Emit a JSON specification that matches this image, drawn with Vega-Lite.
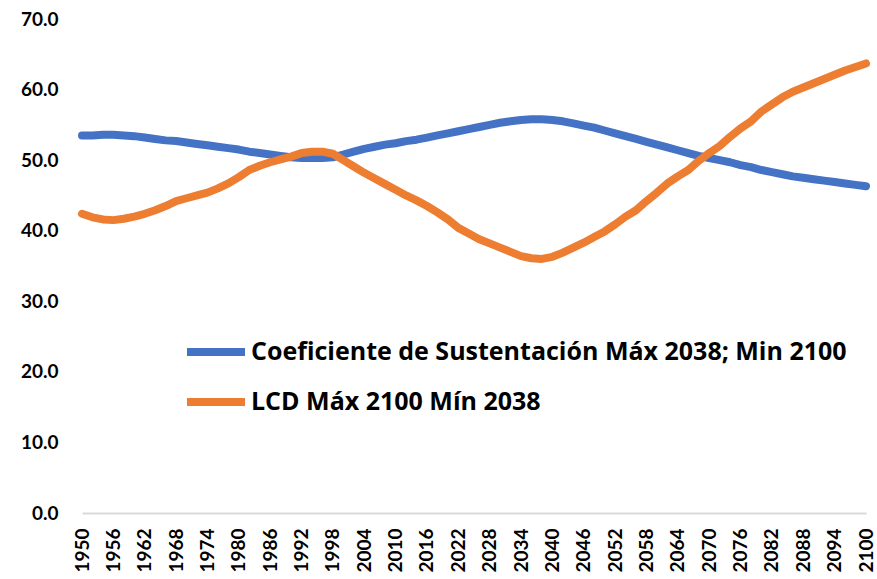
{
  "$schema": "https://vega.github.io/schema/vega-lite/v6.json",
  "width": 784,
  "height": 494,
  "autosize": {"type": "none"},
  "padding": {"left": 82, "top": 19, "right": 11, "bottom": 66},
  "background": "white",
  "config": {
    "view": {"stroke": null},
    "font": "Lato"
  },
  "data": {
    "values": [
      {"year": 1950, "coef": 53.5, "lcd": 42.4},
      {"year": 1952, "coef": 53.5, "lcd": 41.9},
      {"year": 1954, "coef": 53.6, "lcd": 41.6},
      {"year": 1956, "coef": 53.6, "lcd": 41.5},
      {"year": 1958, "coef": 53.5, "lcd": 41.7},
      {"year": 1960, "coef": 53.4, "lcd": 42.0},
      {"year": 1962, "coef": 53.2, "lcd": 42.4},
      {"year": 1964, "coef": 53.0, "lcd": 42.9},
      {"year": 1966, "coef": 52.8, "lcd": 43.5},
      {"year": 1968, "coef": 52.7, "lcd": 44.2},
      {"year": 1970, "coef": 52.5, "lcd": 44.6},
      {"year": 1972, "coef": 52.3, "lcd": 45.0},
      {"year": 1974, "coef": 52.1, "lcd": 45.4},
      {"year": 1976, "coef": 51.9, "lcd": 46.0},
      {"year": 1978, "coef": 51.7, "lcd": 46.7},
      {"year": 1980, "coef": 51.5, "lcd": 47.6},
      {"year": 1982, "coef": 51.2, "lcd": 48.6},
      {"year": 1984, "coef": 51.0, "lcd": 49.2},
      {"year": 1986, "coef": 50.8, "lcd": 49.7},
      {"year": 1988, "coef": 50.6, "lcd": 50.1},
      {"year": 1990, "coef": 50.4, "lcd": 50.5},
      {"year": 1992, "coef": 50.3, "lcd": 51.0},
      {"year": 1994, "coef": 50.3, "lcd": 51.2},
      {"year": 1996, "coef": 50.3, "lcd": 51.2},
      {"year": 1998, "coef": 50.4, "lcd": 50.9},
      {"year": 2000, "coef": 50.8, "lcd": 50.0},
      {"year": 2002, "coef": 51.2, "lcd": 49.1},
      {"year": 2004, "coef": 51.6, "lcd": 48.2},
      {"year": 2006, "coef": 51.9, "lcd": 47.4},
      {"year": 2008, "coef": 52.2, "lcd": 46.6},
      {"year": 2010, "coef": 52.4, "lcd": 45.8},
      {"year": 2012, "coef": 52.7, "lcd": 45.0},
      {"year": 2014, "coef": 52.9, "lcd": 44.3},
      {"year": 2016, "coef": 53.2, "lcd": 43.5},
      {"year": 2018, "coef": 53.5, "lcd": 42.6},
      {"year": 2020, "coef": 53.8, "lcd": 41.6},
      {"year": 2022, "coef": 54.1, "lcd": 40.4},
      {"year": 2024, "coef": 54.4, "lcd": 39.6},
      {"year": 2026, "coef": 54.7, "lcd": 38.8},
      {"year": 2028, "coef": 55.0, "lcd": 38.2},
      {"year": 2030, "coef": 55.3, "lcd": 37.6},
      {"year": 2032, "coef": 55.5, "lcd": 37.0},
      {"year": 2034, "coef": 55.7, "lcd": 36.4},
      {"year": 2036, "coef": 55.8, "lcd": 36.1},
      {"year": 2038, "coef": 55.8, "lcd": 36.0},
      {"year": 2040, "coef": 55.7, "lcd": 36.3},
      {"year": 2042, "coef": 55.5, "lcd": 36.9},
      {"year": 2044, "coef": 55.2, "lcd": 37.6},
      {"year": 2046, "coef": 54.9, "lcd": 38.3},
      {"year": 2048, "coef": 54.6, "lcd": 39.1},
      {"year": 2050, "coef": 54.2, "lcd": 39.9},
      {"year": 2052, "coef": 53.8, "lcd": 40.9},
      {"year": 2054, "coef": 53.4, "lcd": 42.0},
      {"year": 2056, "coef": 53.0, "lcd": 42.9},
      {"year": 2058, "coef": 52.6, "lcd": 44.2},
      {"year": 2060, "coef": 52.2, "lcd": 45.4},
      {"year": 2062, "coef": 51.8, "lcd": 46.7},
      {"year": 2064, "coef": 51.4, "lcd": 47.7},
      {"year": 2066, "coef": 51.0, "lcd": 48.6},
      {"year": 2068, "coef": 50.6, "lcd": 49.9},
      {"year": 2070, "coef": 50.3, "lcd": 51.0},
      {"year": 2072, "coef": 50.0, "lcd": 52.0},
      {"year": 2074, "coef": 49.7, "lcd": 53.3},
      {"year": 2076, "coef": 49.3, "lcd": 54.5},
      {"year": 2078, "coef": 49.0, "lcd": 55.5},
      {"year": 2080, "coef": 48.6, "lcd": 56.9},
      {"year": 2082, "coef": 48.3, "lcd": 57.9},
      {"year": 2084, "coef": 48.0, "lcd": 58.9},
      {"year": 2086, "coef": 47.7, "lcd": 59.7},
      {"year": 2088, "coef": 47.5, "lcd": 60.3},
      {"year": 2090, "coef": 47.3, "lcd": 60.9},
      {"year": 2092, "coef": 47.1, "lcd": 61.5},
      {"year": 2094, "coef": 46.9, "lcd": 62.1},
      {"year": 2096, "coef": 46.7, "lcd": 62.7},
      {"year": 2098, "coef": 46.5, "lcd": 63.2},
      {"year": 2100, "coef": 46.3, "lcd": 63.7}
    ]
  },
  "transform": [
    {"fold": ["coef", "lcd"], "as": ["serie", "valor"]}
  ],
  "mark": {"type": "line", "strokeWidth": 8, "strokeCap": "round", "strokeJoin": "round"},
  "encoding": {
    "x": {
      "field": "year",
      "type": "quantitative",
      "scale": {"domain": [1950, 2100], "nice": false, "zero": false},
      "axis": {
        "title": null,
        "values": [1950,1956,1962,1968,1974,1980,1986,1992,1998,2004,2010,2016,2022,2028,2034,2040,2046,2052,2058,2064,2070,2076,2082,2088,2094,2100],
        "format": "d",
        "labelAngle": -90,
        "labelFont": "Lato",
        "labelFontSize": 19,
        "labelFontWeight": "bold",
        "labelColor": "#000000",
        "labelPadding": 15,
        "labelOverlap": false,
        "labelFlush": false,
        "ticks": false,
        "grid": false,
        "domainColor": "#d9d9d9",
        "domainWidth": 2
      }
    },
    "y": {
      "field": "valor",
      "type": "quantitative",
      "scale": {"domain": [0, 70], "nice": false},
      "axis": {
        "title": null,
        "values": [0, 10, 20, 30, 40, 50, 60, 70],
        "format": ".1f",
        "labelFont": "Lato",
        "labelFontSize": 19,
        "labelFontWeight": "bold",
        "labelColor": "#000000",
        "labelPadding": 24,
        "ticks": false,
        "grid": false,
        "domain": false
      }
    },
    "color": {
      "field": "serie",
      "type": "nominal",
      "scale": {"domain": ["coef", "lcd"], "range": ["#4472C4", "#ED7D31"]},
      "legend": {
        "title": null,
        "orient": "none",
        "legendX": 101,
        "legendY": 300,
        "symbolType": "stroke",
        "symbolSize": 3364,
        "symbolStrokeWidth": 8,
        "labelFont": "Open Sans",
        "labelFontSize": 25,
        "labelFontWeight": "bold",
        "labelColor": "#000000",
        "labelOffset": 2,
        "labelLimit": 800,
        "rowPadding": 1,
        "labelExpr": "datum.label == 'coef' ? 'Coeficiente de Sustentación Máx 2038; Min 2100' : 'LCD Máx 2100 Mín 2038'"
      }
    }
  }
}
